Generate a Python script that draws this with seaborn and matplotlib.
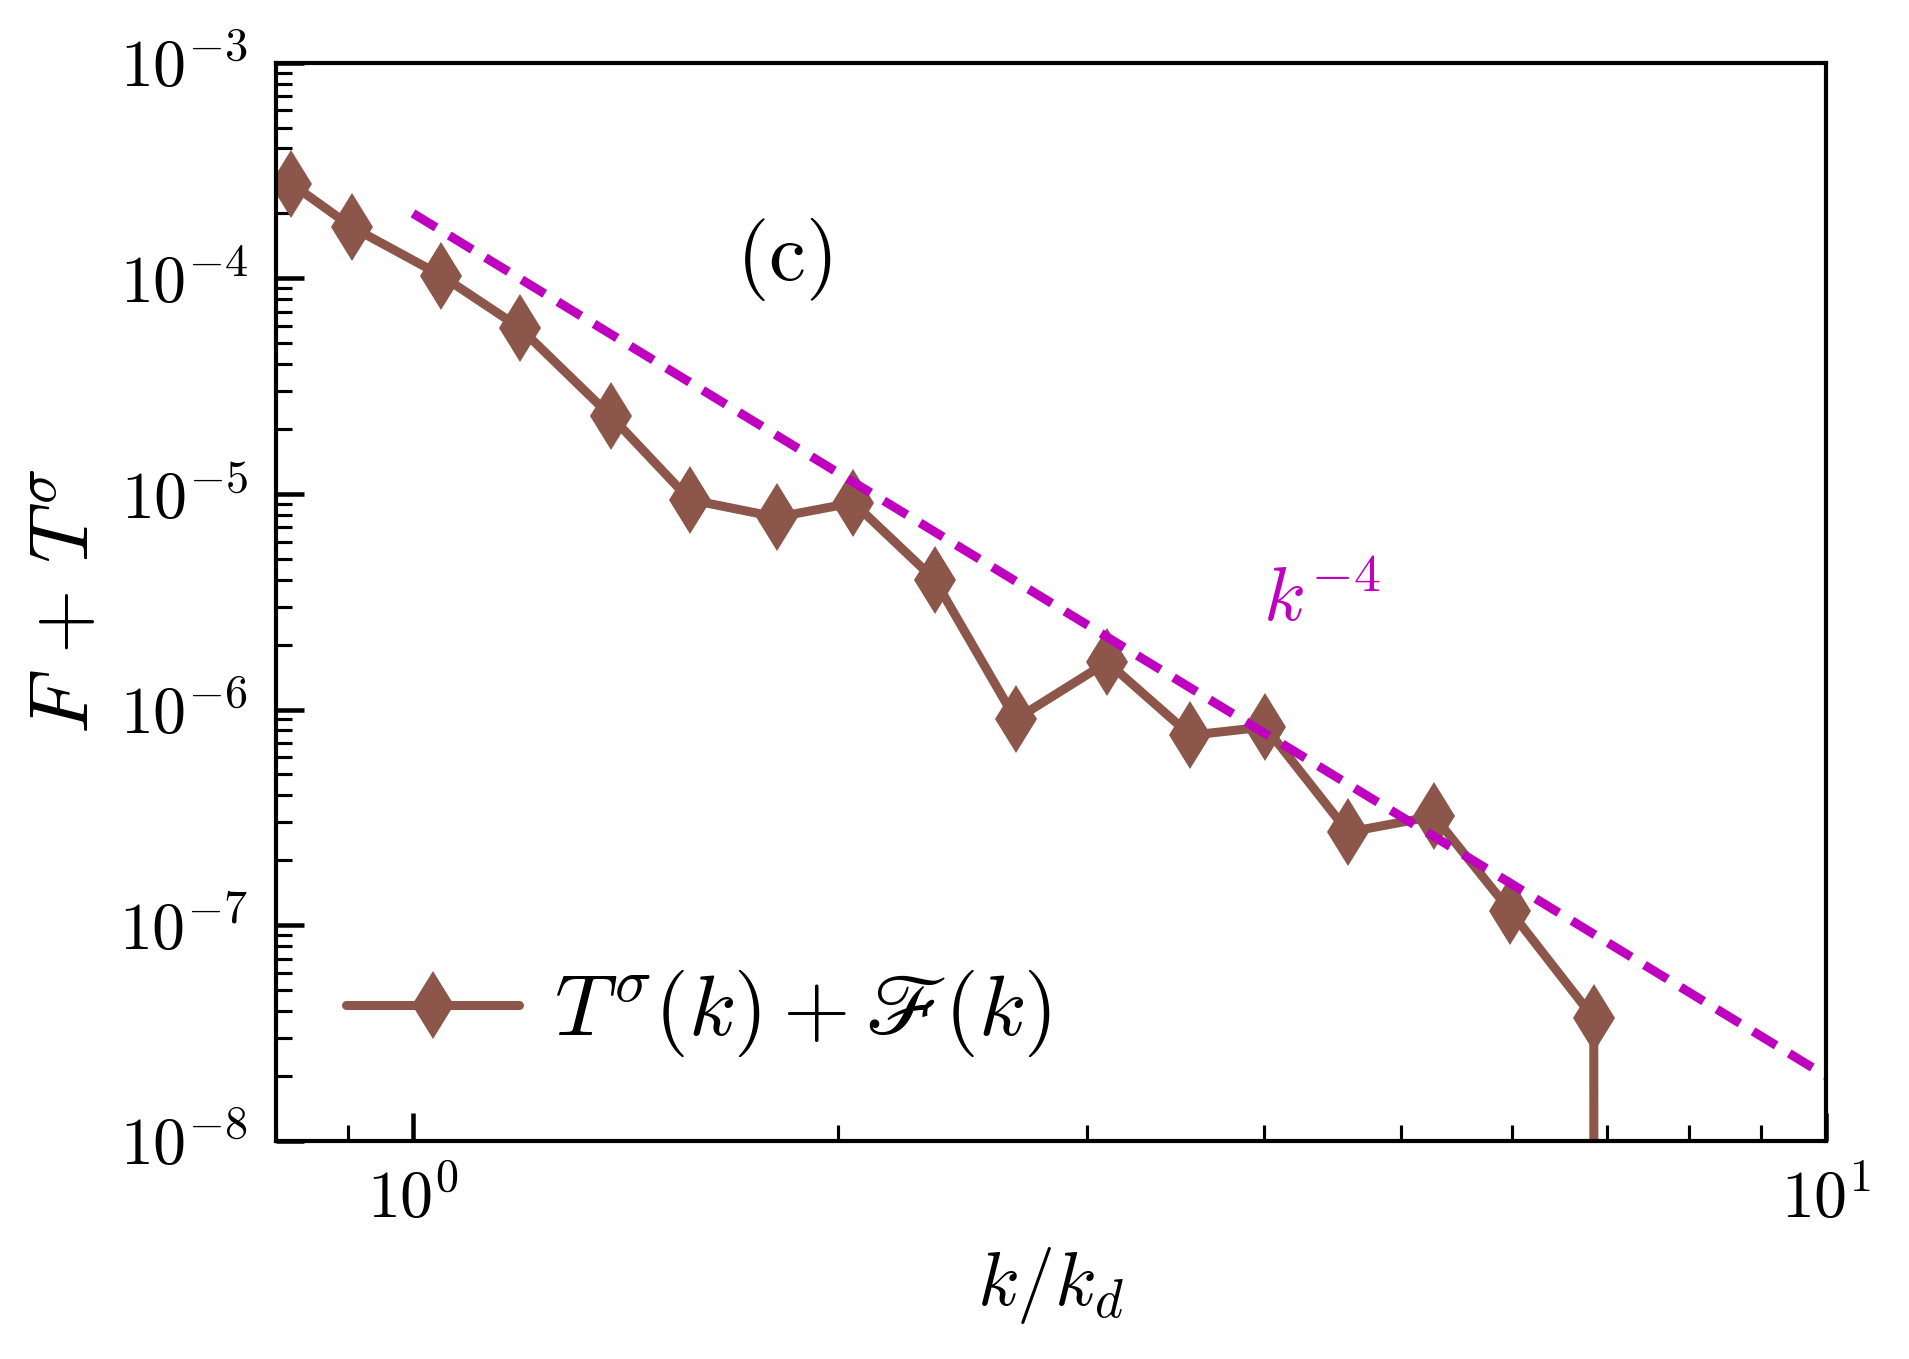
import numpy as np
import pandas as pd
import matplotlib
matplotlib.use('Agg')
import matplotlib.pyplot as plt
import matplotlib.ticker as mticker
import seaborn as sns

# binned spectrum values (last bin is negative -> drops off the log axis)
k_over_kd = [0.82, 0.905, 1.047, 1.19, 1.38, 1.57, 1.81, 2.05, 2.34, 2.67,
             3.10, 3.55, 4.01, 4.59, 5.28, 5.98, 6.85, 7.85]
flux = [2.75e-4, 1.73e-4, 1.03e-4, 5.9e-5, 2.3e-5, 9.4e-6, 7.8e-6, 9.1e-6, 4.0e-6, 9.0e-7,
        1.66e-6, 7.6e-7, 8.3e-7, 2.7e-7, 3.2e-7, 1.16e-7, 3.7e-8, -1.0e-8]

# k^-4 reference line
ref_k = [1.0, 10.0]
ref_amp = 2e-4
ref_slope = -4

sns.set_style('ticks')
plt.rcParams['font.family'] = ['serif']
plt.rcParams['font.serif'] = ['cmr10', 'DejaVu Serif']
plt.rcParams['mathtext.fontset'] = 'cm'
plt.rcParams['axes.formatter.use_mathtext'] = True
plt.rcParams['axes.unicode_minus'] = True
for key in ['text.color', 'axes.labelcolor', 'xtick.color', 'ytick.color', 'axes.edgecolor']:
    plt.rcParams[key] = 'black'

brown = '#8c564b'
magenta = '#bf00bf'

df = pd.DataFrame({'k': k_over_kd, 'val': flux})
ref = pd.DataFrame({'k': ref_k})
ref['val'] = ref_amp * ref['k'] ** ref_slope

fig = plt.figure(figsize=(7.636, 5.436), dpi=250)
ax = fig.add_axes([0.1446, 0.1606, 0.8119, 0.7933])

sns.lineplot(data=df, x='k', y='val', ax=ax, color=brown, lw=2.6, marker='d',
             markersize=14, markeredgewidth=0, estimator=None, sort=False,
             label=r'$T^\sigma(k) + \mathscr{F}(k)$')
sns.lineplot(data=ref, x='k', y='val', ax=ax, color=magenta, lw=2.6,
             estimator=None, legend=False)
ax.lines[-1].set_dashes((3.0, 1.7))

ax.set_xscale('log')
ax.set_yscale('log')
ax.set_xlim(0.8, 10)
ax.set_ylim(1e-8, 1e-3)

ax.text(4.4, 3.2e-6, r'$k^{-4}$', color=magenta, fontsize=22, ha='center', va='center')
ax.text(1.83, 1.22e-4, r'$(\mathrm{c})$', fontsize=24, ha='center', va='center')

ax.set_xlabel(r'$k/k_d$', fontsize=22)
ax.set_ylabel(r'$F\,+\,T^\sigma$', fontsize=24)

ax.xaxis.set_minor_formatter(mticker.NullFormatter())
ax.tick_params(which='both', direction='in', top=False, right=False, labelsize=19)
ax.tick_params(which='major', length=8, width=1.3, pad=8)
ax.tick_params(which='minor', length=4.7, width=0.9)
for s in ax.spines.values():
    s.set_linewidth(1.2)
    s.set_color('black')

ax.legend(loc='center left', bbox_to_anchor=(0.045, 0.118), frameon=False,
          fontsize=25, handlelength=2.0, handletextpad=0.4, borderpad=0, borderaxespad=0)

fig.savefig('out.png', dpi=250)
